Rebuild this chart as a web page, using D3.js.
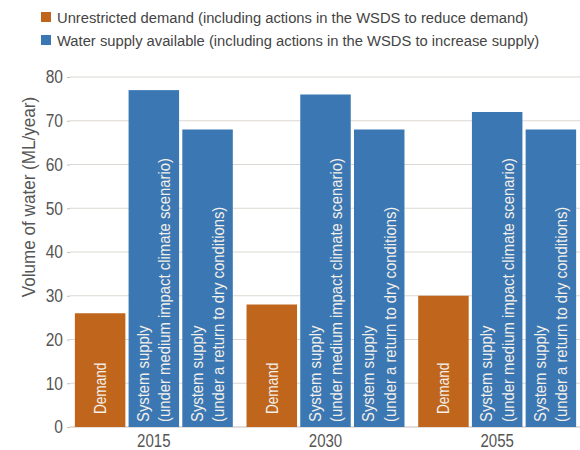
<!DOCTYPE html>
<html>
<head>
<meta charset="utf-8">
<script src="https://cdn.jsdelivr.net/npm/d3@7"></script>
<style>
  html, body { margin: 0; padding: 0; background: #fff; }
  svg { display: block; font-family: "Liberation Sans", Arial, sans-serif; }
</style>
</head>
<body>
<svg id="chart" width="580" height="450"></svg>
<script>
// Years on the x axis
const years = ["2015", "2030", "2055"];
// Bars within each year
const barKeys = ["demand", "medium", "dry"];
const barLines = {
  demand: ["Demand"],
  medium: ["System supply", "(under medium impact climate scenario)"],
  dry: ["System supply", "(under a return to dry conditions)"]
};
// Volumes in ML/year
const demandValues = [26, 28, 30];
const mediumSupplyValues = [77, 76, 72];
const drySupplyValues = [68, 68, 68];
const yTicks = [0, 10, 20, 30, 40, 50, 60, 70, 80];
const legendItems = [
  { label: "Unrestricted demand (including actions in the WSDS to reduce demand)", key: "demand" },
  { label: "Water supply available (including actions in the WSDS to increase supply)", key: "supply" }
];

const colors = { demand: "#c0651c", supply: "#3b77b3", medium: "#3b77b3", dry: "#3b77b3" };

const rows = years.map((yr, i) => ({
  year: yr,
  demand: demandValues[i],
  medium: mediumSupplyValues[i],
  dry: drySupplyValues[i]
}));

const svg = d3.select("#chart");

const y = d3.scaleLinear().domain([0, 80]).range([427, 77]);
const x0 = d3.scaleBand().domain(years).range([68, 583]).paddingInner(0.08).paddingOuter(0.04);
const x1 = d3.scaleBand().domain(barKeys).range([0, x0.bandwidth()]).paddingInner(0.06).paddingOuter(0);

// Gridlines
svg.append("g")
  .selectAll("line")
  .data(yTicks)
  .join("line")
  .attr("x1", 70).attr("x2", 580)
  .attr("y1", d => y(d)).attr("y2", d => y(d))
  .attr("stroke", d => d === 0 ? "#c4beb8" : "#dcd7d2")
  .attr("stroke-width", 1.2);

// Y axis: condensed tick labels
const yAxis = d3.axisLeft(y).tickValues(yTicks).tickSize(3).tickPadding(4);
const gy = svg.append("g").attr("transform", "translate(70,0)").call(yAxis);
gy.select(".domain").remove();
gy.selectAll(".tick line").attr("stroke", "#c4beb8");
gy.selectAll(".tick text")
  .attr("fill", "#555")
  .style("font-size", "18.5px")
  .style("font-family", "inherit")
  .attr("x", -7 / 0.84)
  .attr("transform", "scale(0.84,1)");

svg.append("text")
  .attr("transform", `translate(35,${y(40) - 55}) rotate(-90) scale(0.95,1)`)
  .attr("text-anchor", "middle")
  .attr("fill", "#555")
  .style("font-size", "18px")
  .text("Volume of water (ML/year)");

// Bars
const groups = svg.append("g")
  .selectAll("g")
  .data(rows)
  .join("g")
  .attr("transform", d => `translate(${x0(d.year)},0)`);

const bars = groups.selectAll("g.bar")
  .data(d => barKeys.map(k => ({ key: k, value: d[k] })))
  .join("g").attr("class", "bar");

bars.append("rect")
  .attr("x", d => x1(d.key))
  .attr("width", x1.bandwidth())
  .attr("y", d => y(d.value))
  .attr("height", d => y(0) - y(d.value))
  .attr("fill", d => colors[d.key]);

// Rotated labels inside bars
bars.each(function(d) {
  const lines = barLines[d.key];
  const cx = x1(d.key) + x1.bandwidth() / 2;
  const n = lines.length;
  const isDemand = d.key === "demand";
  const sx = isDemand ? 0.85 : 0.9;
  const t = d3.select(this).append("text")
    .attr("transform", `translate(${cx},${y(0) - (isDemand ? 13 : 5)}) rotate(-90) scale(${sx},1)`)
    .attr("fill", "#f3efe9")
    .style("font-size", isDemand ? "16px" : "16.5px");
  lines.forEach((ln, i) => {
    t.append("tspan")
      .attr("x", 0)
      .attr("y", (i - (n - 1) / 2) * 21.5 + 5.8)
      .text(ln);
  });
});

// Year labels
const xAxis = d3.axisBottom(x0).tickSize(0).tickPadding(0);
const gx = svg.append("g").attr("transform", `translate(0,${y(0)})`).call(xAxis);
gx.select(".domain").remove();
gx.selectAll(".tick text")
  .attr("fill", "#555")
  .style("font-size", "17.5px")
  .style("font-family", "inherit")
  .attr("dy", null)
  .attr("y", 20.5)
  .attr("transform", "scale(0.86,1)");

// Legend
const legend = svg.append("g");
legendItems.forEach((it, i) => {
  const cy = 17 + i * 23;
  legend.append("rect").attr("x", 41).attr("y", cy - 5).attr("width", 10).attr("height", 10)
    .attr("fill", colors[it.key]);
  legend.append("text")
    .attr("transform", `translate(57,${cy + 5.5}) scale(0.965,1)`)
    .attr("fill", "#444").style("font-size", "15.3px").text(it.label);
});
</script>
</body>
</html>
